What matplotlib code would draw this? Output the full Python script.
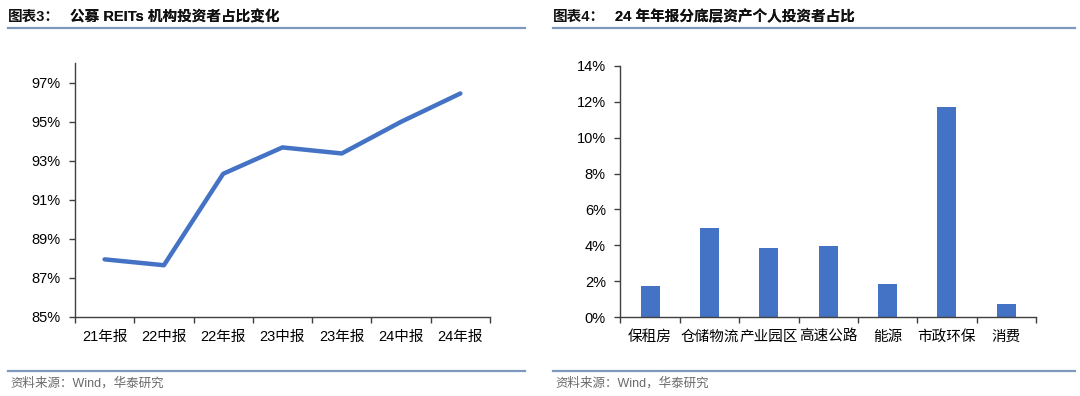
import numpy as np
import matplotlib
matplotlib.use("Agg")
import matplotlib.pyplot as plt
from matplotlib.lines import Line2D
from matplotlib.ticker import FixedLocator, FuncFormatter

plt.rcParams['font.family'] = ['Liberation Sans', 'Noto Sans CJK SC']

# left chart: share of institutional investors in public REITs (%)
periods = ["21年报", "22中报", "22年报", "23中报", "23年报", "24中报", "24年报"]
inst_share = [87.95, 87.65, 92.33, 93.68, 93.37, 94.99, 96.44]

# right chart: share of individual investors by asset type, 2024 annual report (%)
assets = ["保租房", "仓储物流", "产业园区", "高速公路", "能源", "市政环保", "消费"]
indiv_share = [1.74, 4.95, 3.84, 3.98, 1.85, 11.70, 0.72]

left_title = ("图表3：", "公募 REITs 机构投资者占比变化")
right_title = ("图表4：", "24 年年报分底层资产个人投资者占比")
source = "资料来源：Wind，华泰研究"

blue = "#4472C4"
rule = "#7F98BE"

fig = plt.figure(figsize=(10.8, 3.96), dpi=100)


def style_axes(ax, labels):
    n = len(labels)
    ax.set_xlim(-0.5, n - 0.5)
    for s in ("top", "right"):
        ax.spines[s].set_visible(False)
    for s in ("left", "bottom"):
        ax.spines[s].set_color("#404040")
        ax.spines[s].set_linewidth(1.0)
    ax.xaxis.set_major_locator(FixedLocator(np.arange(n + 1) - 0.5))
    ax.xaxis.set_major_formatter(FuncFormatter(lambda v, p: ""))
    ax.xaxis.set_minor_locator(FixedLocator(np.arange(n)))
    ax.set_xticklabels(labels, minor=True)
    ax.tick_params(axis="x", which="major", direction="out", length=4, width=1, color="#404040")
    ax.tick_params(axis="x", which="minor", length=0, pad=9, labelsize=10.5)
    ax.tick_params(axis="y", direction="out", length=4, width=1, color="#404040",
                   labelsize=10.5, pad=6.5)


# left: line chart
ax1 = fig.add_axes([0.0694, 0.1995, 0.3843, 0.6414])
ax1.plot(np.arange(len(periods)), inst_share, color=blue, lw=3.2, solid_capstyle="round")
ax1.set_ylim(85, 98)
ax1.set_yticks(np.arange(85, 98, 2))
ax1.yaxis.set_major_formatter(FuncFormatter(lambda v, p: f"{v:.0f}%"))
style_axes(ax1, periods)

# right: bar chart
ax2 = fig.add_axes([0.5744, 0.1987, 0.3849, 0.6354])
ax2.bar(np.arange(len(assets)), indiv_share, width=0.32, color=blue, zorder=2)
ax2.set_ylim(0, 14)
ax2.set_yticks(np.arange(0, 15, 2))
ax2.yaxis.set_major_formatter(FuncFormatter(lambda v, p: f"{v:.0f}%"))
style_axes(ax2, assets)


def header(x0, x1, title):
    t = fig.text(x0 / 1080, 1 - 17 / 396, title[0], fontsize=10.5, fontweight="bold",
                 va="center", ha="left", color="#111111")
    a = plt.annotate(title[1], xy=(1, 0.5), xycoords=t, xytext=(7, 0), textcoords="offset points",
                     va="center", ha="left", fontsize=10.5, fontweight="bold", color="#111111",
                     annotation_clip=False)
    fig.add_artist(a)
    fig.add_artist(Line2D([x0 / 1080, x1 / 1080], [1 - 28 / 396] * 2, color=rule, lw=1.6,
                          transform=fig.transFigure))
    fig.add_artist(Line2D([x0 / 1080, x1 / 1080], [1 - 371 / 396] * 2, color=rule, lw=1.6,
                          transform=fig.transFigure))
    fig.text((x0 + 2) / 1080, 1 - 383 / 396, source, fontsize=9, color="#6b6b6b",
             va="center", ha="left")


header(8, 525, left_title)
header(553, 1075, right_title)

fig.savefig("out.png", dpi=100)
